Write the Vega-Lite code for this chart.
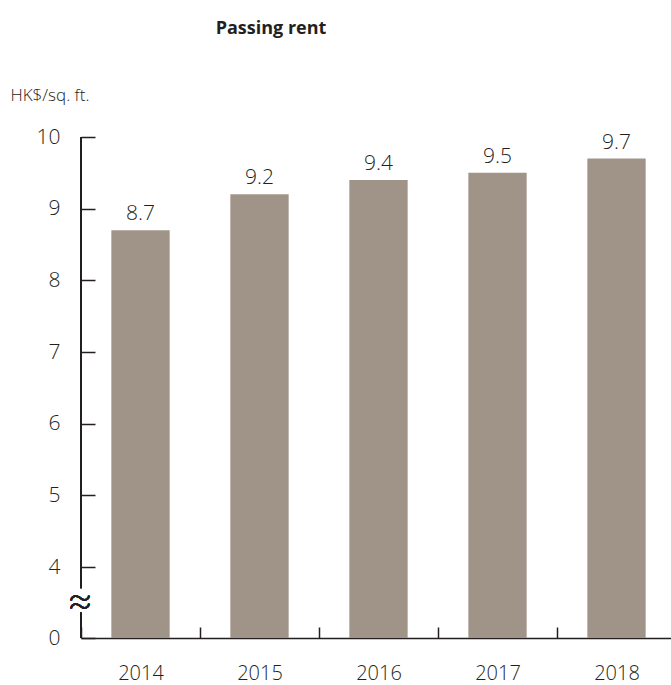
{
  "$schema": "https://vega.github.io/schema/vega-lite/v6.json",
  "width": 590,
  "height": 501,
  "autosize": "none",
  "padding": {"left": 81, "top": 137, "right": 0, "bottom": 47},
  "title": {
    "text": "Passing rent",
    "fontSize": 18,
    "fontWeight": "bold",
    "color": "#231f20",
    "anchor": "middle",
    "frame": "group",
    "dx": -105,
    "dy": -30,
    "baseline": "alphabetic"
  },
  "data": {
    "values": [
      {"year": "2014", "rent": 8.7},
      {"year": "2015", "rent": 9.2},
      {"year": "2016", "rent": 9.4},
      {"year": "2017", "rent": 9.5},
      {"year": "2018", "rent": 9.7}
    ]
  },
  "encoding": {
    "x": {
      "field": "year",
      "type": "nominal",
      "scale": {"range": [0, 595], "paddingInner": 0, "paddingOuter": 0},
      "axis": {
        "title": null,
        "labelAngle": 0,
        "tickBand": "extent",
        "tickSize": -11,
        "tickWidth": 1.5,
        "tickColor": "#231f20",
        "domainColor": "#231f20",
        "domainWidth": 1.5,
        "labelPadding": 36,
        "labelBaseline": "top",
        "labelFontSize": 20,
        "labelFontWeight": 300,
        "labelColor": "#231f20"
      }
    }
  },
  "layer": [
    {
      "mark": {"type": "bar", "color": "#a09488", "width": {"band": 0.49}},
      "encoding": {
        "y": {
          "field": "rent",
          "type": "quantitative",
          "scale": {"domain": [0, 4, 10], "range": [501, 430, 0]},
          "axis": {
            "values": [0, 4, 5, 6, 7, 8, 9, 10],
            "domain": false,
            "grid": false,
            "tickSize": -14,
            "tickWidth": 1.5,
            "tickColor": "#231f20",
            "labelPadding": 35,
            "labelFontSize": 21,
            "labelFontWeight": 300,
            "labelColor": "#231f20",
            "labelBaseline": "middle",
            "title": "HK$/sq. ft.",
            "titleAngle": 0,
            "titleX": -71,
            "titleY": -37,
            "titleAlign": "left",
            "titleBaseline": "alphabetic",
            "titleFontSize": 17,
            "titleFontWeight": 300,
            "titleColor": "#231f20"
          }
        }
      }
    },
    {
      "mark": {"type": "text", "baseline": "bottom", "dy": -6, "fontSize": 21, "fontWeight": 300, "color": "#231f20"},
      "encoding": {
        "y": {"field": "rent", "type": "quantitative"},
        "text": {"field": "rent", "type": "quantitative", "format": ".1f"}
      }
    },
    {
      "mark": {"type": "rule", "color": "#231f20", "strokeWidth": 1.5},
      "encoding": {
        "x": {"value": 0},
        "y": {"datum": 10, "type": "quantitative"},
        "y2": {"datum": 2.8}
      }
    },
    {
      "mark": {"type": "rule", "color": "#231f20", "strokeWidth": 1.5},
      "encoding": {
        "x": {"value": 0},
        "y": {"datum": 1.45, "type": "quantitative"},
        "y2": {"datum": 0}
      }
    },
    {
      "mark": {"type": "text", "text": "≈", "font": "Inter", "fontSize": 42, "fontWeight": 200, "color": "#231f20", "align": "center", "baseline": "middle"},
      "encoding": {
        "x": {"value": -1},
        "y": {"datum": 2.1, "type": "quantitative"}
      }
    }
  ],
  "config": {
    "font": "Open Sans",
    "view": {"stroke": null}
  }
}
